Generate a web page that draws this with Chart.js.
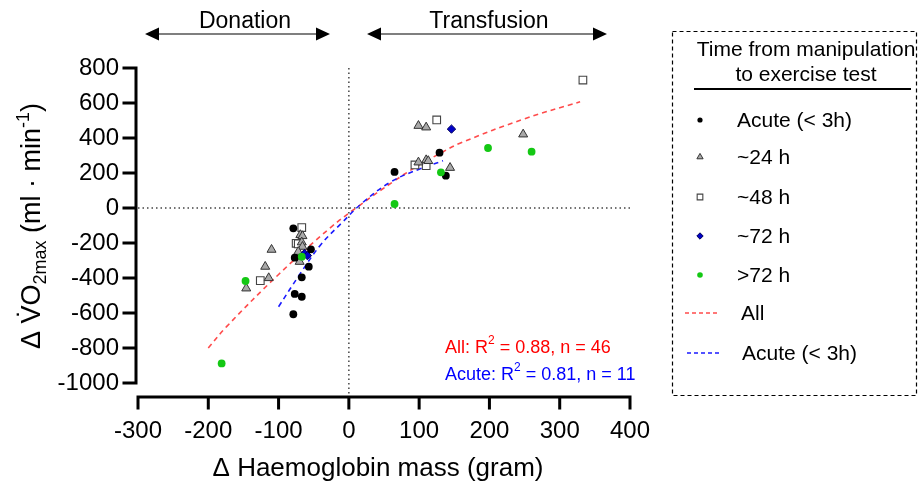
<!DOCTYPE html>
<html>
<head>
<meta charset="utf-8">
<script src="https://cdn.jsdelivr.net/npm/chart.js@4.4.1/dist/chart.umd.min.js"></script>
<style>
  html, body { margin: 0; padding: 0; background: #fff; }
  #wrap { width: 920px; height: 485px; }
</style>
</head>
<body>
<div id="wrap"><canvas id="chart" width="920" height="485"></canvas></div>
<script>
const FONT = "'Liberation Sans', Arial, sans-serif";

const xTicks = [-300, -200, -100, 0, 100, 200, 300, 400];
const yTicks = [-1000, -800, -600, -400, -200, 0, 200, 400, 600, 800];

// change in Hb mass (g) vs change in VO2max (ml/min), by time to test
const acuteX = [-79, -54, -77, -57, -67, -77, -67, -79, 65, 129, 138];
const acuteY = [-116, -236, -284, -335, -396, -491, -507, -607, 206, 316, 185];

const h24X = [-69, -66, -67, -66, -72, -70, -110, -119, -114, -146, 99, 110, 99, 110, 113, 144, 248];
const h24Y = [-154, -160, -196, -221, -250, -307, -238, -335, -400, -459, 470, 461, 261, 274, 269, 230, 421];

const h48X = [-67, -75, -72, -126, 125, 94, 110, 333];
const h48Y = [-112, -202, -205, -415, 503, 246, 242, 731];

const h72X = [-63, -59, 146];
const h72Y = [-260, -272, 451];

const gt72X = [-67, -147, -181, 65, 131, 198, 260];
const gt72Y = [-278, -417, -888, 23, 204, 343, 322];

// fitted curves
const fitAllX = [-200, -174, -100, -27, 16, 63, 96, 129, 158, 250, 329];
const fitAllY = [-800, -678, -380, -115, 17, 150, 236, 310, 370, 510, 607];
const fitAcuteX = [-100, -70, -40, -10, 20, 60, 100, 134];
const fitAcuteY = [-564, -380, -210, -85, 32, 150, 222, 270];

const pts = (xs, ys) => xs.map((x, i) => ({ x: x, y: ys[i] }));

const pointSets = [
  { label: 'Acute (< 3h)', data: pts(acuteX, acuteY), pointStyle: 'circle', pointRadius: 3.9,
    backgroundColor: '#000', borderColor: '#000', pointBorderWidth: 0, legendRadius: 2.6, order: 1 },
  { label: '~24 h', data: pts(h24X, h24Y), pointStyle: 'triangle', pointRadius: 5.2,
    backgroundColor: '#a9a9a9', borderColor: '#333', pointBorderWidth: 1, legendRadius: 3.6, order: 3 },
  { label: '~48 h', data: pts(h48X, h48Y), pointStyle: 'rect', pointRadius: 5.4,
    backgroundColor: '#fff', borderColor: '#444', pointBorderWidth: 1.1, legendRadius: 4, order: 4 },
  { label: '~72 h', data: pts(h72X, h72Y), pointStyle: 'rectRot', pointRadius: 4.2,
    backgroundColor: '#0000c8', borderColor: '#00005a', pointBorderWidth: 1, legendRadius: 3.2, order: 2 },
  { label: '>72 h', data: pts(gt72X, gt72Y), pointStyle: 'circle', pointRadius: 3.9,
    backgroundColor: '#14c814', borderColor: '#14c814', pointBorderWidth: 0, legendRadius: 2.8, order: 0 }
];

const lineSets = [
  { label: 'All', data: pts(fitAllX, fitAllY), showLine: true, borderColor: '#ff4b4b',
    borderWidth: 1.6, borderDash: [5, 4], pointRadius: 0, tension: 0.4, order: 10 },
  { label: 'Acute (< 3h)', data: pts(fitAcuteX, fitAcuteY), showLine: true, borderColor: '#1a1aff',
    borderWidth: 1.6, borderDash: [5, 4], pointRadius: 0, tension: 0.4, order: 9 }
];

function arrow(ctx, x1, x2, y) {
  ctx.save();
  ctx.strokeStyle = '#555';
  ctx.lineWidth = 1.5;
  ctx.beginPath();
  ctx.moveTo(x1 + 10, y);
  ctx.lineTo(x2 - 10, y);
  ctx.stroke();
  ctx.fillStyle = '#000';
  ctx.beginPath();
  ctx.moveTo(x1, y); ctx.lineTo(x1 + 14, y - 6.5); ctx.lineTo(x1 + 14, y + 6.5); ctx.closePath();
  ctx.moveTo(x2, y); ctx.lineTo(x2 - 14, y - 6.5); ctx.lineTo(x2 - 14, y + 6.5); ctx.closePath();
  ctx.fill();
  ctx.restore();
}

function richText(ctx, parts, x, y) {
  let cx = x;
  parts.forEach(p => {
    ctx.font = p.size + 'px ' + FONT;
    ctx.fillText(p.t, cx, y + (p.dy || 0));
    cx += ctx.measureText(p.t).width;
  });
}

function richWidth(ctx, parts) {
  let w = 0;
  parts.forEach(p => { ctx.font = p.size + 'px ' + FONT; w += ctx.measureText(p.t).width; });
  return w;
}

const decor = {
  id: 'decor',
  beforeDatasetsDraw(chart) {
    const { ctx, chartArea, scales } = chart;
    const x0 = scales.x.getPixelForValue(0);
    const y0 = scales.y.getPixelForValue(0);
    ctx.save();
    ctx.strokeStyle = '#444';
    ctx.lineWidth = 1.5;
    ctx.setLineDash([1.5, 3]);
    ctx.beginPath();
    ctx.moveTo(chartArea.left, y0); ctx.lineTo(chartArea.right, y0);
    ctx.moveTo(x0, chartArea.top); ctx.lineTo(x0, chartArea.bottom + 13);
    ctx.stroke();
    ctx.restore();
  },
  afterDraw(chart) {
    const { ctx, chartArea, scales } = chart;
    const xs = scales.x, ys = scales.y;
    ctx.save();

    // axes, offset GraphPad style
    ctx.strokeStyle = '#000';
    ctx.lineWidth = 3;
    ctx.lineCap = 'square';
    const ax = chartArea.left - 2;
    ctx.beginPath();
    ctx.moveTo(ax, ys.getPixelForValue(yTicks[yTicks.length - 1]));
    ctx.lineTo(ax, ys.getPixelForValue(yTicks[0]));
    yTicks.forEach(v => {
      const py = ys.getPixelForValue(v);
      ctx.moveTo(ax, py); ctx.lineTo(ax - 12, py);
    });
    const ay = chartArea.bottom + 14;
    ctx.moveTo(xs.getPixelForValue(xTicks[0]), ay);
    ctx.lineTo(xs.getPixelForValue(xTicks[xTicks.length - 1]), ay);
    xTicks.forEach(v => {
      const px = xs.getPixelForValue(v);
      ctx.moveTo(px, ay); ctx.lineTo(px, ay + 11);
    });
    ctx.stroke();
    ctx.lineCap = 'butt';

    // x axis title
    ctx.fillStyle = '#000';
    ctx.font = '26px ' + FONT;
    ctx.textAlign = 'center';
    ctx.textBaseline = 'alphabetic';
    ctx.fillText('\u0394 Haemoglobin mass (gram)', 378, 476);

    // Donation / Transfusion arrows
    arrow(ctx, 145, 330, 34);
    arrow(ctx, 367, 607, 34);
    ctx.fillStyle = '#000';
    ctx.font = '23px ' + FONT;
    ctx.textAlign = 'center';
    ctx.textBaseline = 'middle';
    ctx.fillText('Donation', 245, 22);
    ctx.fillText('Transfusion', 489, 22);

    // y axis title
    ctx.save();
    ctx.translate(31, 226);
    ctx.rotate(-Math.PI / 2);
    ctx.textAlign = 'left';
    ctx.textBaseline = 'alphabetic';
    const yTitle = [
      { t: '\u0394 ', size: 27 },
      { t: 'V\u0307', size: 27 },
      { t: 'O', size: 27 },
      { t: '2max', size: 18, dy: 6 },
      { t: ' (ml \u00b7 min', size: 27 },
      { t: '-1', size: 18, dy: -11 },
      { t: ')', size: 27 }
    ];
    richText(ctx, yTitle, -richWidth(ctx, yTitle) / 2, 9);
    ctx.restore();

    // fit annotations
    ctx.textAlign = 'left';
    ctx.textBaseline = 'middle';
    ctx.fillStyle = '#ff0000';
    richText(ctx, [{ t: 'All: R', size: 18 }, { t: '2', size: 12, dy: -7 }, { t: ' = 0.88, n = 46', size: 18 }], 445, 348);
    ctx.fillStyle = '#0000ff';
    richText(ctx, [{ t: 'Acute: R', size: 18 }, { t: '2', size: 12, dy: -7 }, { t: ' = 0.81, n = 11', size: 18 }], 445, 375);

    // legend box
    ctx.strokeStyle = '#000';
    ctx.lineWidth = 1.2;
    ctx.setLineDash([4, 3]);
    ctx.strokeRect(672.5, 31.5, 244, 364);
    ctx.setLineDash([]);
    ctx.fillStyle = '#000';
    ctx.font = '21px ' + FONT;
    ctx.textAlign = 'center';
    ctx.fillText('Time from manipulation', 806, 50);
    ctx.fillText('to exercise test', 806, 75);
    ctx.lineWidth = 2;
    ctx.beginPath();
    ctx.moveTo(694, 89); ctx.lineTo(911, 89);
    ctx.stroke();

    ctx.textAlign = 'left';
    const rows = [120, 157, 197, 236, 275];
    pointSets.forEach((d, i) => {
      ctx.fillStyle = d.backgroundColor;
      ctx.strokeStyle = d.borderColor;
      ctx.lineWidth = d.pointBorderWidth || 0.01;
      Chart.helpers.drawPoint(ctx, { pointStyle: d.pointStyle, radius: d.legendRadius, rotation: 0, borderWidth: d.pointBorderWidth }, 700, rows[i]);
      ctx.fillStyle = '#000';
      ctx.font = '21px ' + FONT;
      ctx.fillText(d.label, 737, rows[i] + 1);
    });
    const lrows = [{ y: 313, x1: 685, tx: 741 }, { y: 353, x1: 687, tx: 742 }];
    lineSets.forEach((d, i) => {
      const r = lrows[i];
      ctx.strokeStyle = d.borderColor;
      ctx.lineWidth = 1.4;
      ctx.setLineDash([4, 3]);
      ctx.beginPath();
      ctx.moveTo(r.x1, r.y); ctx.lineTo(r.x1 + 35, r.y);
      ctx.stroke();
      ctx.setLineDash([]);
      ctx.fillStyle = '#000';
      ctx.fillText(d.label, r.tx, r.y + 1);
    });
    ctx.restore();
  }
};

new Chart(document.getElementById('chart'), {
  type: 'scatter',
  data: { datasets: pointSets.concat(lineSets) },
  options: {
    responsive: false,
    animation: false,
    events: [],
    layout: { padding: { left: 0, right: 290, top: 68, bottom: 0 } },
    plugins: { legend: { display: false }, tooltip: { enabled: false } },
    scales: {
      x: {
        type: 'linear', min: -300, max: 400,
        afterBuildTicks: s => { s.ticks = xTicks.map(v => ({ value: v })); },
        afterFit: s => { s.height = 102; },
        grid: { display: false, drawTicks: false },
        border: { display: false },
        ticks: { color: '#000', font: { family: FONT, size: 24 }, padding: 34, maxRotation: 0, autoSkip: false,
                 callback: v => String(v) }
      },
      y: {
        type: 'linear', min: -1000, max: 800,
        afterBuildTicks: s => { s.ticks = yTicks.map(v => ({ value: v })); },
        afterFit: s => { s.width = 138; },
        grid: { display: false, drawTicks: false },
        border: { display: false },
        ticks: { color: '#000', font: { family: FONT, size: 24 }, padding: 19, autoSkip: false,
                 callback: v => String(v) }
      }
    }
  },
  plugins: [decor]
});
</script>
</body>
</html>
